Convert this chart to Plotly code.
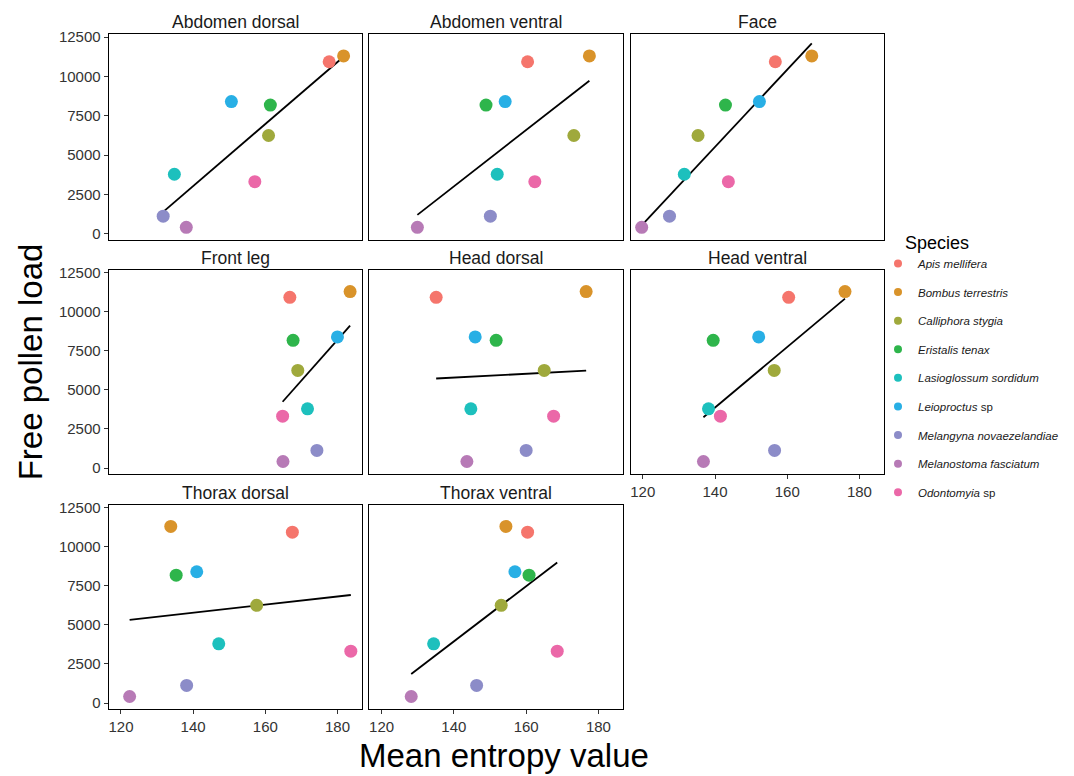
import numpy as np
import plotly.graph_objects as go

W, H = 1074, 776

species = ["Apis mellifera", "Bombus terrestris", "Calliphora stygia", "Eristalis tenax",
           "Lasioglossum sordidum", "Leioproctus sp", "Melangyna novaezelandiae",
           "Melanostoma fasciatum", "Odontomyia sp"]
species_labels = ["<i>Apis mellifera</i>", "<i>Bombus terrestris</i>", "<i>Calliphora stygia</i>",
                  "<i>Eristalis tenax</i>", "<i>Lasioglossum sordidum</i>", "<i>Leioproctus</i> sp",
                  "<i>Melangyna novaezelandiae</i>", "<i>Melanostoma fasciatum</i>", "<i>Odontomyia</i> sp"]
colors = ["#F5756C", "#D9932A", "#9FA93C", "#2EB54B", "#1DC0BD", "#28AFE5",
          "#8C8CC8", "#B77AB6", "#EB68A8"]

# Free pollen load per species (same in every panel)
pollen_load = [10930, 11300, 6250, 8180, 3790, 8400, 1130, 420, 3320]

panels = ["Abdomen dorsal", "Abdomen ventral", "Face", "Front leg", "Head dorsal",
          "Head ventral", "Thorax dorsal", "Thorax ventral"]

# Mean entropy value per species, per body region
entropy_abdomen_dorsal = [177.7, 181.7, 160.9, 161.4, 134.8, 150.6, 131.7, 138.1, 157.1]
entropy_abdomen_ventral = [160.4, 177.5, 173.2, 148.9, 152.0, 154.2, 150.1, 129.9, 162.4]
entropy_face = [156.7, 166.8, 135.3, 142.9, 131.5, 152.3, 127.4, 119.7, 143.7]
entropy_front_leg = [166.8, 183.5, 169.0, 167.7, 171.7, 180.0, 174.3, 164.9, 164.8]
entropy_head_dorsal = [135.1, 176.6, 165.0, 151.7, 144.7, 145.9, 160.0, 143.6, 167.6]
entropy_head_ventral = [160.4, 176.0, 156.4, 139.5, 138.2, 152.1, 156.5, 136.8, 141.5]
entropy_thorax_dorsal = [167.5, 133.8, 157.6, 135.3, 147.1, 141.0, 138.2, 122.4, 183.7]
entropy_thorax_ventral = [160.4, 154.4, 153.1, 160.8, 134.4, 156.9, 146.3, 128.2, 168.6]

entropy = [entropy_abdomen_dorsal, entropy_abdomen_ventral, entropy_face, entropy_front_leg,
           entropy_head_dorsal, entropy_head_ventral, entropy_thorax_dorsal, entropy_thorax_ventral]

x_ticks = [120, 140, 160, 180]
x_tick_labels = ["120", "140", "160", "180"]
y_ticks = [0, 2500, 5000, 7500, 10000, 12500]
y_tick_labels = ["0", "2500", "5000", "7500", "10000", "12500"]
x_range = [116.6, 186.8]
y_range = [-390, 12680]

# panel geometry in pixels
col_px = [(108.7, 362.0), (369.3, 623.0), (630.5, 884.0)]
row_px = [(28.5, 236.5), (266.8, 473.0), (504.0, 710.5)]

font_family = "Liberation Sans, Arial, Helvetica, sans-serif"

fig = go.Figure()
layout = dict(
    width=W, height=H,
    margin=dict(l=0, r=0, t=0, b=0),
    paper_bgcolor="white", plot_bgcolor="white",
    font=dict(family=font_family, color="#333333"),
    showlegend=True,
    annotations=[],
)

for i, name in enumerate(panels):
    r, c = divmod(i, 3)
    ax = "" if i == 0 else str(i + 1)
    x0, x1 = col_px[c]
    yt, yb = row_px[r]
    xdom = [x0 / W, x1 / W]
    ydom = [1 - yb / H, 1 - yt / H]
    show_x = (r == 2) or (i == 5)
    show_y = (c == 0)
    layout["xaxis" + ax] = dict(
        domain=xdom, range=x_range, anchor="y" + ax,
        showgrid=False, zeroline=False,
        showline=True, mirror=True, linecolor="black", linewidth=1.2,
        tickvals=x_ticks, ticktext=x_tick_labels,
        ticks="outside" if show_x else "", ticklen=4,
        tickcolor="#333333", tickwidth=1, showticklabels=show_x,
        tickfont=dict(size=15, color="#333333", family=font_family),
    )
    layout["yaxis" + ax] = dict(
        domain=ydom, range=y_range, anchor="x" + ax,
        showgrid=False, zeroline=False,
        showline=True, mirror=True, linecolor="black", linewidth=1.2,
        tickvals=y_ticks, ticktext=y_tick_labels,
        ticks="outside" if show_y else "", ticklen=4,
        tickcolor="#333333", tickwidth=1, showticklabels=show_y,
        tickfont=dict(size=15, color="#333333", family=font_family),
    )
    layout["annotations"].append(dict(
        text=name, xref="paper", yref="paper",
        x=(xdom[0] + xdom[1]) / 2, y=ydom[1], xanchor="center", yanchor="bottom",
        yshift=0, showarrow=False,
        font=dict(size=17.5, color="#1A1A1A", family=font_family),
    ))

    xs = np.array(entropy[i], dtype=float)
    ys = np.array(pollen_load, dtype=float)
    slope, intercept = np.polyfit(xs, ys, 1)
    lx = np.array([xs.min(), xs.max()])
    fig.add_trace(go.Scatter(
        x=lx, y=slope * lx + intercept, mode="lines",
        line=dict(color="black", width=1.8),
        xaxis="x" + ax, yaxis="y" + ax, showlegend=False, hoverinfo="skip",
    ))
    fig.add_trace(go.Scatter(
        x=xs, y=ys, mode="markers",
        marker=dict(size=13, color=colors, line=dict(width=0)),
        text=species, xaxis="x" + ax, yaxis="y" + ax, showlegend=False,
    ))

# legend entries
for sp, lab, col in zip(species, species_labels, colors):
    fig.add_trace(go.Scatter(
        x=[None], y=[None], mode="markers", name=lab,
        marker=dict(size=8, color=col), legendgroup=sp, showlegend=True,
    ))

layout["legend"] = dict(
    x=878 / W, y=1 - 245.5 / H, xanchor="left", yanchor="top",
    font=dict(size=11.5, color="#1A1A1A", family=font_family),
    tracegroupgap=9.6, itemwidth=30, bgcolor="rgba(0,0,0,0)",
)

layout["annotations"].append(dict(
    text="Species", xref="paper", yref="paper",
    x=903 / W, y=1 - 239 / H, showarrow=False,
    xanchor="left", yanchor="middle",
    font=dict(size=18, color="black", family=font_family),
))
layout["annotations"].append(dict(
    text="Free pollen load", xref="paper", yref="paper",
    x=30 / W, y=1 - 360 / H, textangle=-90, showarrow=False,
    xanchor="center", yanchor="middle",
    font=dict(size=33, color="black", family=font_family),
))
layout["annotations"].append(dict(
    text="Mean entropy value", xref="paper", yref="paper",
    x=504 / W, y=1 - 757 / H, showarrow=False,
    xanchor="center", yanchor="middle",
    font=dict(size=33, color="black", family=font_family),
))

fig.update_layout(**layout)
fig.write_html(
    "out.html",
    config={"displayModeBar": False},
    post_script="document.body.style.margin='0px';document.body.style.overflow='hidden';",
)
